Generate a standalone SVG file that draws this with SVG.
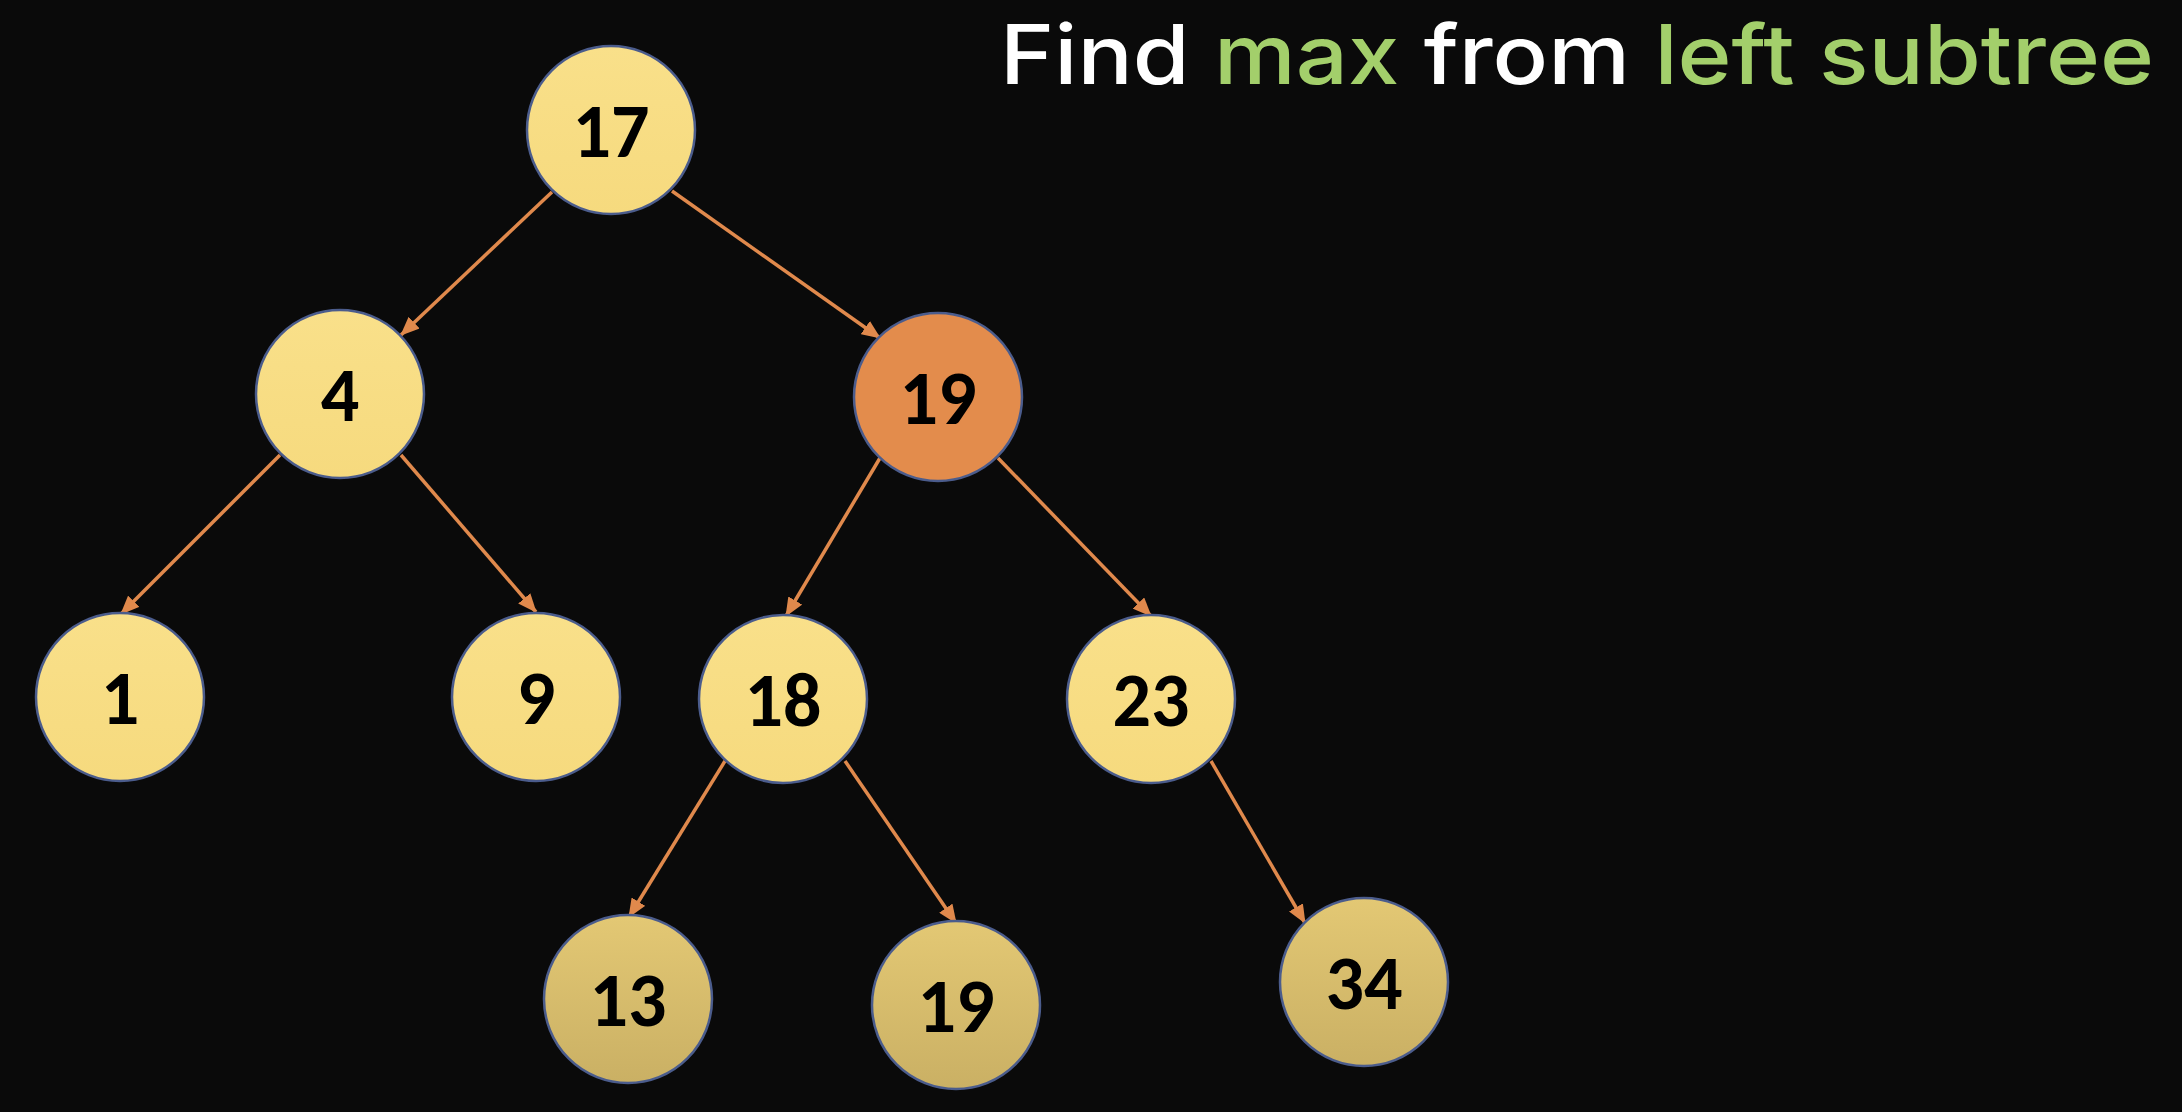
<svg xmlns="http://www.w3.org/2000/svg" width="2182" height="1112" viewBox="0 0 2182 1112">
<defs>
<style>
.node{stroke:#4B5C8C;stroke-width:2.5}
.lbl{font-family:Carlito,"Open Sans","Liberation Sans",sans-serif;font-weight:bold;font-size:76px;fill:#000;text-anchor:middle}
.edge{stroke:#E0894C;stroke-width:3.5;fill:none;marker-end:url(#arr)}
.title{font-family:Inter,Lato,"Liberation Sans",sans-serif;font-weight:500;font-size:82px;fill:#FFFFFF}
.g{fill:#A3CF6B}
</style>
<linearGradient id="lt" x1="0" y1="0" x2="0" y2="1">
<stop offset="0" stop-color="#F9E08A"/><stop offset="1" stop-color="#F6DA7E"/>
</linearGradient>
<linearGradient id="dk" x1="0" y1="0" x2="0" y2="1">
<stop offset="0" stop-color="#E3C874"/><stop offset="1" stop-color="#CAB064"/>
</linearGradient>
<marker id="arr" markerUnits="userSpaceOnUse" markerWidth="20" markerHeight="16" refX="18" refY="8" orient="auto">
<path d="M0,0 L19,8 L0,16 Z" fill="#E0894C"/>
</marker>
</defs>
<rect width="2182" height="1112" fill="#0A0A0A"/>
<text class="title" x="1000" y="84" textLength="1154" lengthAdjust="spacingAndGlyphs">Find <tspan class="g">max</tspan> from <tspan class="g">left subtree</tspan></text>
<g id="connectors">
<line class="edge" x1="552" y1="192" x2="401" y2="335"/>
<line class="edge" x1="672" y1="191" x2="880" y2="338"/>
<line class="edge" x1="280" y1="455" x2="121" y2="614"/>
<line class="edge" x1="401" y1="455" x2="536" y2="612"/>
<line class="edge" x1="880" y1="458" x2="786" y2="616"/>
<line class="edge" x1="998" y1="458" x2="1151" y2="616"/>
<line class="edge" x1="725" y1="761" x2="629" y2="917"/>
<line class="edge" x1="845" y1="761" x2="956" y2="923"/>
<line class="edge" x1="1211" y1="761" x2="1305" y2="923"/>
</g>
<g id="n17"><circle class="node" cx="611" cy="130" r="84" fill="url(#lt)"/><text class="lbl" x="611" y="157">17</text></g>
<g id="n4"><circle class="node" cx="340" cy="394" r="84" fill="url(#lt)"/><text class="lbl" x="340" y="421">4</text></g>
<g id="n19"><circle class="node" cx="938" cy="397" r="84" fill="#E38C4C"/><text class="lbl" x="938" y="424">19</text></g>
<g id="n1"><circle class="node" cx="120" cy="697" r="84" fill="url(#lt)"/><text class="lbl" x="120" y="724">1</text></g>
<g id="n9"><circle class="node" cx="536" cy="697" r="84" fill="url(#lt)"/><text class="lbl" x="536" y="724">9</text></g>
<g id="n18"><circle class="node" cx="783" cy="699" r="84" fill="url(#lt)"/><text class="lbl" x="783" y="726">18</text></g>
<g id="n23"><circle class="node" cx="1151" cy="699" r="84" fill="url(#lt)"/><text class="lbl" x="1151" y="726">23</text></g>
<g id="n13"><circle class="node" cx="628" cy="999" r="84" fill="url(#dk)"/><text class="lbl" x="628" y="1026">13</text></g>
<g id="n19b"><circle class="node" cx="956" cy="1005" r="84" fill="url(#dk)"/><text class="lbl" x="956" y="1032">19</text></g>
<g id="n34"><circle class="node" cx="1364" cy="982" r="84" fill="url(#dk)"/><text class="lbl" x="1364" y="1009">34</text></g>
</svg>
